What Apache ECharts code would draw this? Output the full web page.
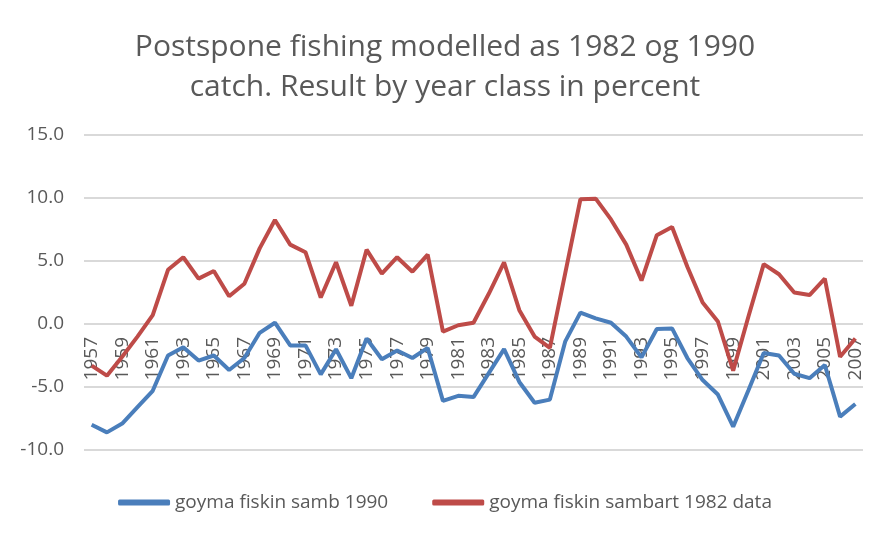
<!DOCTYPE html>
<html><head><meta charset="utf-8">
<script src="https://cdn.jsdelivr.net/npm/echarts@6/dist/echarts.min.js"></script>
<style>html,body{margin:0;padding:0;background:#fff}#c{width:890px;height:533px}</style>
</head><body><div id="c"></div>
<script>
const years = [];
for (let y = 1957; y <= 2007; y++) years.push(String(y));
const seriesNames = ['goyma fiskin samb 1990', 'goyma fiskin sambart 1982 data'];
const blue1990 = [-8.0,-8.6,-7.9,-6.6,-5.3,-2.5,-1.85,-2.9,-2.5,-3.65,-2.7,-0.7,0.1,-1.7,-1.7,-4.0,-2.0,-4.3,-1.15,-2.8,-2.1,-2.7,-1.9,-6.1,-5.7,-5.8,-3.9,-2.0,-4.6,-6.25,-6.0,-1.4,0.9,0.45,0.1,-1.0,-2.65,-0.4,-0.35,-2.7,-4.45,-5.6,-8.15,-5.25,-2.3,-2.5,-3.95,-4.3,-3.25,-7.35,-6.35];
const red1982 = [-3.3,-4.1,-2.6,-1.0,0.7,4.3,5.3,3.6,4.2,2.2,3.2,6.0,8.25,6.3,5.7,2.1,4.9,1.45,5.9,4.0,5.3,4.15,5.5,-0.6,-0.1,0.1,2.4,4.9,1.1,-1.0,-1.9,4.0,9.9,9.95,8.3,6.3,3.45,7.05,7.7,4.55,1.7,0.2,-3.7,0.6,4.75,3.95,2.5,2.3,3.6,-2.6,-1.15];
const titleLines = ['Postspone fishing modelled as 1982 og 1990', 'catch. Result by year class in percent'];
const yMin = -10, yMax = 15, yStep = 5;

const chart = echarts.init(document.getElementById('c'));
const txt = '#595959';
const gridTop = 135, gridBottom = 83, plotH = 533 - gridTop - gridBottom;
// move the category axis up to the zero line (Excel-style crossing)
const zeroOffset = -plotH * (0 - yMin) / (yMax - yMin);
chart.setOption({
  backgroundColor: '#fff',
  textStyle: {fontFamily: 'Open Sans'},
  title: {
    text: titleLines.join('\n'), left: 'center', top: 22,
    textStyle: {color: txt, fontSize: 30, fontWeight: 'normal', lineHeight: 40, fontFamily: 'Open Sans'}
  },
  legend: {
    top: 488, left: 'center', itemWidth: 52, itemHeight: 6, itemGap: 44,
    icon: 'roundRect',
    textStyle: {color: txt, fontSize: 19, fontFamily: 'Open Sans'},
    data: seriesNames
  },
  grid: {left: 84, right: 27, top: gridTop, bottom: gridBottom},
  xAxis: {
    type: 'category', data: years, boundaryGap: true,
    offset: zeroOffset,
    axisLine: {show: false, onZero: false},
    axisTick: {show: false},
    axisLabel: {rotate: 90, interval: 1, color: txt, fontSize: 19, margin: 13}
  },
  yAxis: {
    type: 'value', min: yMin, max: yMax, interval: yStep,
    axisLine: {show: false}, axisTick: {show: false},
    axisLabel: {color: txt, fontSize: 19, margin: 20, formatter: v => v.toFixed(1)},
    splitLine: {lineStyle: {color: '#d9d9d9', width: 2}}
  },
  series: [
    {name: seriesNames[0], type: 'line', data: blue1990, symbol: 'none', color: '#4A7EBB',
     lineStyle: {width: 4, color: '#4A7EBB'}},
    {name: seriesNames[1], type: 'line', data: red1982, symbol: 'none', color: '#BE4B48',
     lineStyle: {width: 4, color: '#BE4B48'}}
  ]
});
</script></body></html>
